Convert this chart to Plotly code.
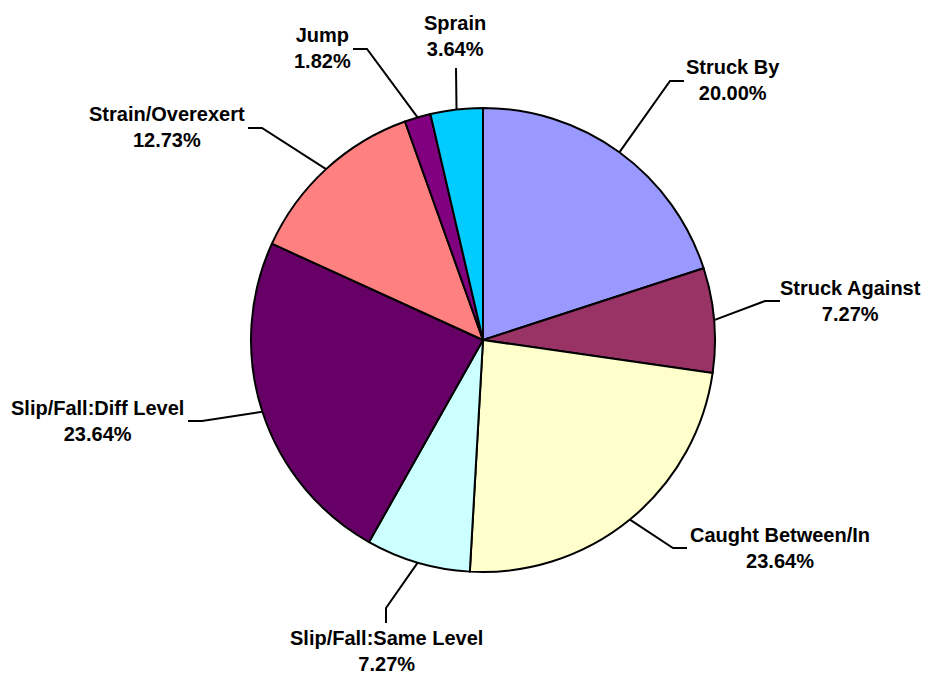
import math
import plotly.graph_objects as go

# ---- data ----
categories = ["Struck By", "Struck Against", "Caught Between/In", "Slip/Fall:Same Level",
              "Slip/Fall:Diff Level", "Strain/Overexert", "Jump", "Sprain"]
percentages = [20.00, 7.27, 23.64, 7.27, 23.64, 12.73, 1.82, 3.64]
colors = ["#9999FF", "#993366", "#FFFFCC", "#CCFFFF", "#660066", "#FF8080", "#800080", "#00CCFF"]

# ---- layout (pixels in the 929x675 window) ----
OFF = 8  # default page body margin
W, H = 929 - OFF, 675 - OFF
CX, CY, R = 483, 340, 232
# label block centres
label_pos = [(733, 80), (850, 301), (780, 548), (386, 651),
             (97, 421), (167, 127), (322, 48), (455, 36)]
# leader line points after the slice edge (elbow, end)
leader_pts = [[(670, 81), (684, 81)], [(765, 301), (780, 301)], [(673, 548), (687, 548)],
              [(386, 608), (386, 623)], [(202, 421), (188, 421)], [(262, 128), (248, 128)],
              [(367, 49), (353, 49)], [(456, 68)]]


def px(x):
    return (x - OFF) / W


def py(y):
    return 1 - (y - OFF) / H


fig = go.Figure(go.Pie(
    labels=categories, values=percentages, sort=False, direction="clockwise", rotation=0,
    marker=dict(colors=colors, line=dict(color="black", width=2)),
    textinfo="none", hoverinfo="label+percent", showlegend=False,
    domain=dict(x=[px(CX - R), px(CX + R)], y=[py(CY + R), py(CY - R)]),
))

total = sum(percentages)
cum = 0.0
shapes = []
annotations = []
for name, v, (lx, ly), pts in zip(categories, percentages, label_pos, leader_pts):
    mid = (cum + v / 2) / total * 2 * math.pi
    cum += v
    sx = CX + R * math.sin(mid)
    sy = CY - R * math.cos(mid)
    path = f"M {px(sx)} {py(sy)}" + "".join(f" L {px(a)} {py(b)}" for a, b in pts)
    shapes.append(dict(type="path", xref="paper", yref="paper", path=path,
                       line=dict(color="black", width=2)))
    annotations.append(dict(x=px(lx), y=py(ly), xref="paper", yref="paper",
                            text=f"{name}<br>{v:.2f}%", showarrow=False,
                            xanchor="center", yanchor="middle", align="center",
                            font=dict(family="Liberation Sans, Arial", size=20,
                                      color="black", weight="bold")))

fig.update_layout(width=W, height=H, margin=dict(l=0, r=0, t=0, b=0),
                  paper_bgcolor="white", plot_bgcolor="white",
                  shapes=shapes, annotations=annotations)
fig.write_html("out.html")
